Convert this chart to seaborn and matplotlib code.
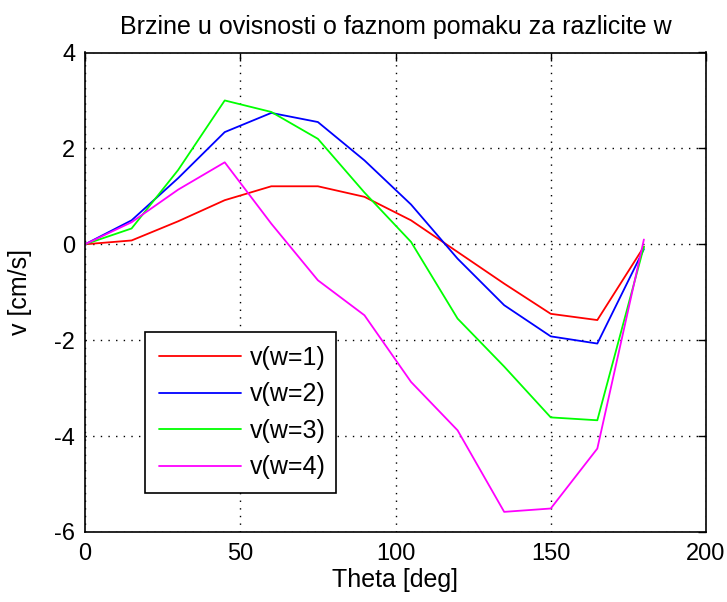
import numpy as np
import pandas as pd
import matplotlib
matplotlib.use("Agg")
import matplotlib.pyplot as plt
import seaborn as sns

# Phase angle samples [deg]
theta = [0, 15, 30, 45, 60, 75, 90, 105, 120, 135, 150, 165, 180]

# Velocities [cm/s] for each w
v_w1 = [0, 0.08, 0.48, 0.92, 1.21, 1.21, 0.99, 0.50, -0.16, -0.82, -1.45, -1.58, -0.05]
v_w2 = [0, 0.50, 1.38, 2.34, 2.74, 2.55, 1.75, 0.83, -0.30, -1.27, -1.92, -2.07, -0.10]
v_w3 = [0, 0.33, 1.55, 3.00, 2.76, 2.20, 1.08, 0.05, -1.55, -2.55, -3.61, -3.67, -0.05]
v_w4 = [0, 0.46, 1.14, 1.71, 0.43, -0.75, -1.48, -2.87, -3.88, -5.58, -5.51, -4.26, 0.10]

series_names = ["v(w=1)", "v(w=2)", "v(w=3)", "v(w=4)"]
series_colors = ["#ff0000", "#0000ff", "#00ff00", "#ff00ff"]

x_ticks = [0, 50, 100, 150, 200]
y_ticks = [-6, -4, -2, 0, 2, 4]

frames = []
for name, vals in zip(series_names, [v_w1, v_w2, v_w3, v_w4]):
    frames.append(pd.DataFrame({"theta": theta, "v": vals, "serija": name}))
df = pd.concat(frames, ignore_index=True)

sns.set_style("white")
plt.rcParams["font.family"] = ["Liberation Sans", "DejaVu Sans"]
plt.rcParams["axes.unicode_minus"] = False
plt.rcParams["text.color"] = "black"
plt.rcParams["axes.labelcolor"] = "black"

fig = plt.figure(figsize=(7.27, 6.02), dpi=100)
ax = fig.add_axes([85 / 727, 70 / 602, 621 / 727, 479.5 / 602])

sns.lineplot(data=df, x="theta", y="v", hue="serija", palette=series_colors,
             estimator=None, sort=False, linewidth=1.3, ax=ax)

ax.set_xlim(0, 200)
ax.set_ylim(-6, 4)
ax.set_xticks(x_ticks)
ax.set_yticks(y_ticks)
ax.grid(True, color="black", linestyle=(0, (1, 4.5)), linewidth=1.0)
ax.tick_params(direction="in", top=True, right=True, length=6, width=1,
               labelsize=17, colors="black")
ax.tick_params(axis="x", pad=8)
ax.tick_params(axis="y", pad=7)
for s in ax.spines.values():
    s.set_visible(True)
    s.set_color("black")
    s.set_linewidth(1.2)

ax.set_title("Brzine u ovisnosti o faznom pomaku za razlicite w", fontsize=18,
             pad=13, color="black")
ax.set_xlabel("Theta [deg]", fontsize=18, labelpad=2, color="black")
ax.set_ylabel("v [cm/s]", fontsize=18, labelpad=16, color="black")

leg = ax.legend(loc="lower left", bbox_to_anchor=(0.097, 0.081, 0.307, 0.334),
                mode="expand", frameon=True, fancybox=False, fontsize=18,
                handlelength=3.3, handletextpad=0.35, labelspacing=0.5,
                borderpad=0.55, borderaxespad=0, labelcolor="black")
leg.get_frame().set_edgecolor("black")
leg.get_frame().set_linewidth(1.2)
leg.get_frame().set_alpha(1)

fig.savefig("out.png", dpi=100, facecolor="white")
